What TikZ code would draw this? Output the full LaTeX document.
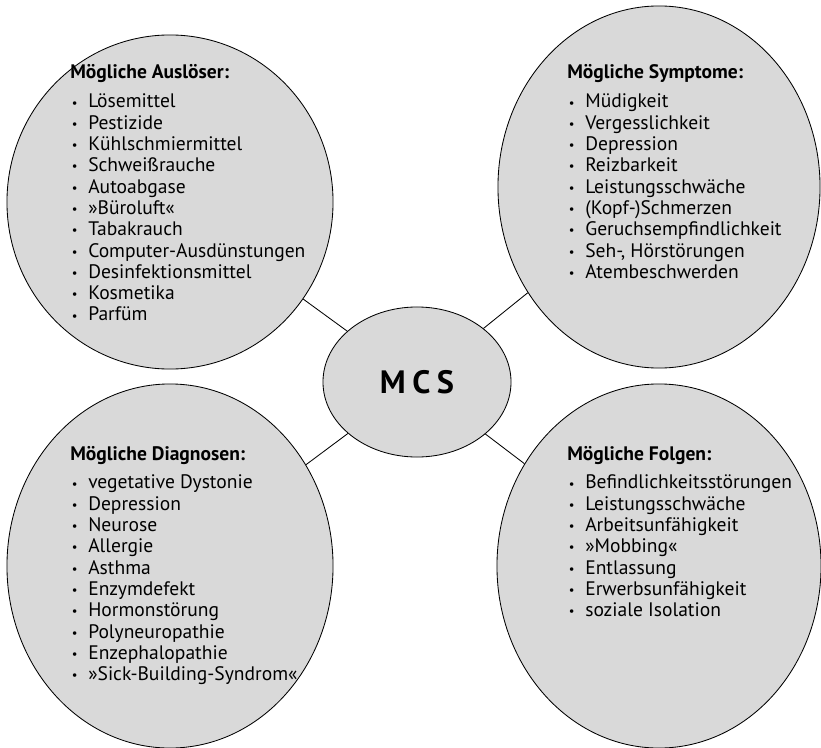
\documentclass[tikz,border=0pt]{standalone}
\usepackage{fontspec}
\setmainfont{PT Sans}
\usetikzlibrary{shapes.geometric}

\definecolor{bubblegray}{RGB}{217,217,217}
\newcommand{\itm}[1]{\makebox[0.45cm][l]{\hspace{0.04cm}\raisebox{0.6pt}{\fontsize{9}{9}\selectfont\textbullet}}#1}

\tikzset{
  bubble/.style={ellipse, draw, fill=bubblegray, line width=0.6pt, inner sep=0pt},
  liste/.style={anchor=base west, inner sep=0pt, font=\fontsize{13.9}{15.15}\selectfont},
  link/.style={line width=0.6pt}
}

\begin{document}
\begin{tikzpicture}[x=0.025cm, y=-0.025cm]
    \useasboundingbox (0,0) rectangle (821,748);

    \node[bubble, minimum width=8.15cm, minimum height=8.35cm] (ausl) at (170,202) {};
    \node[bubble, minimum width=8.05cm, minimum height=9.05cm] (symp) at (659,187) {};
    \node[bubble, minimum width=8.15cm, minimum height=9.1cm] (diag) at (170,566) {};
    \node[bubble, minimum width=8.1cm, minimum height=9.1cm] (folg) at (659,566) {};
    \node[bubble, minimum width=4.7cm, minimum height=3.75cm,
          font=\fontsize{23}{26}\selectfont\bfseries\addfontfeature{LetterSpace=20}] (mcs) at (417,382) {MCS};

    \draw[link] (mcs) -- (ausl);
    \draw[link] (mcs) -- (symp);
    \draw[link] (mcs) -- (diag);
    \draw[link] (mcs) -- (folg);

    \node[liste] (auslText) at (70,79) {\begin{tabular}[t]{@{}l@{}}
        \textbf{Mögliche Auslöser:}\\[5.4pt]
        \itm{Lösemittel}\\ \itm{Pestizide}\\ \itm{Kühlschmiermittel}\\
        \itm{Schweißrauche}\\ \itm{Autoabgase}\\ \itm{»Büroluft«}\\
        \itm{Tabakrauch}\\ \itm{Computer-Ausdünstungen}\\
        \itm{Desinfektionsmittel}\\ \itm{Kosmetika}\\ \itm{Parfüm}
    \end{tabular}};
    \node[liste] (sympText) at (567,79) {\begin{tabular}[t]{@{}l@{}}
        \textbf{Mögliche Symptome:}\\[5.4pt]
        \itm{Müdigkeit}\\ \itm{Vergesslichkeit}\\ \itm{Depression}\\
        \itm{Reizbarkeit}\\ \itm{Leistungsschwäche}\\ \itm{(Kopf-)Schmerzen}\\
        \itm{Geruchsempfindlichkeit}\\ \itm{Seh-, Hörstörungen}\\
        \itm{Atembeschwerden}
    \end{tabular}};
    \node[liste] (diagText) at (70,460) {\begin{tabular}[t]{@{}l@{}}
        \textbf{Mögliche Diagnosen:}\\[5.4pt]
        \itm{vegetative Dystonie}\\ \itm{Depression}\\ \itm{Neurose}\\
        \itm{Allergie}\\ \itm{Asthma}\\ \itm{Enzymdefekt}\\
        \itm{Hormonstörung}\\ \itm{Polyneuropathie}\\
        \itm{Enzephalopathie}\\ \itm{»Sick-Building-Syndrom«}
    \end{tabular}};
    \node[liste] (folgText) at (567,460) {\begin{tabular}[t]{@{}l@{}}
        \textbf{Mögliche Folgen:}\\[5.4pt]
        \itm{Befindlichkeitsstörungen}\\ \itm{Leistungsschwäche}\\
        \itm{Arbeitsunfähigkeit}\\ \itm{»Mobbing«}\\ \itm{Entlassung}\\
        \itm{Erwerbsunfähigkeit}\\ \itm{soziale Isolation}
    \end{tabular}};
\end{tikzpicture}
\end{document}
